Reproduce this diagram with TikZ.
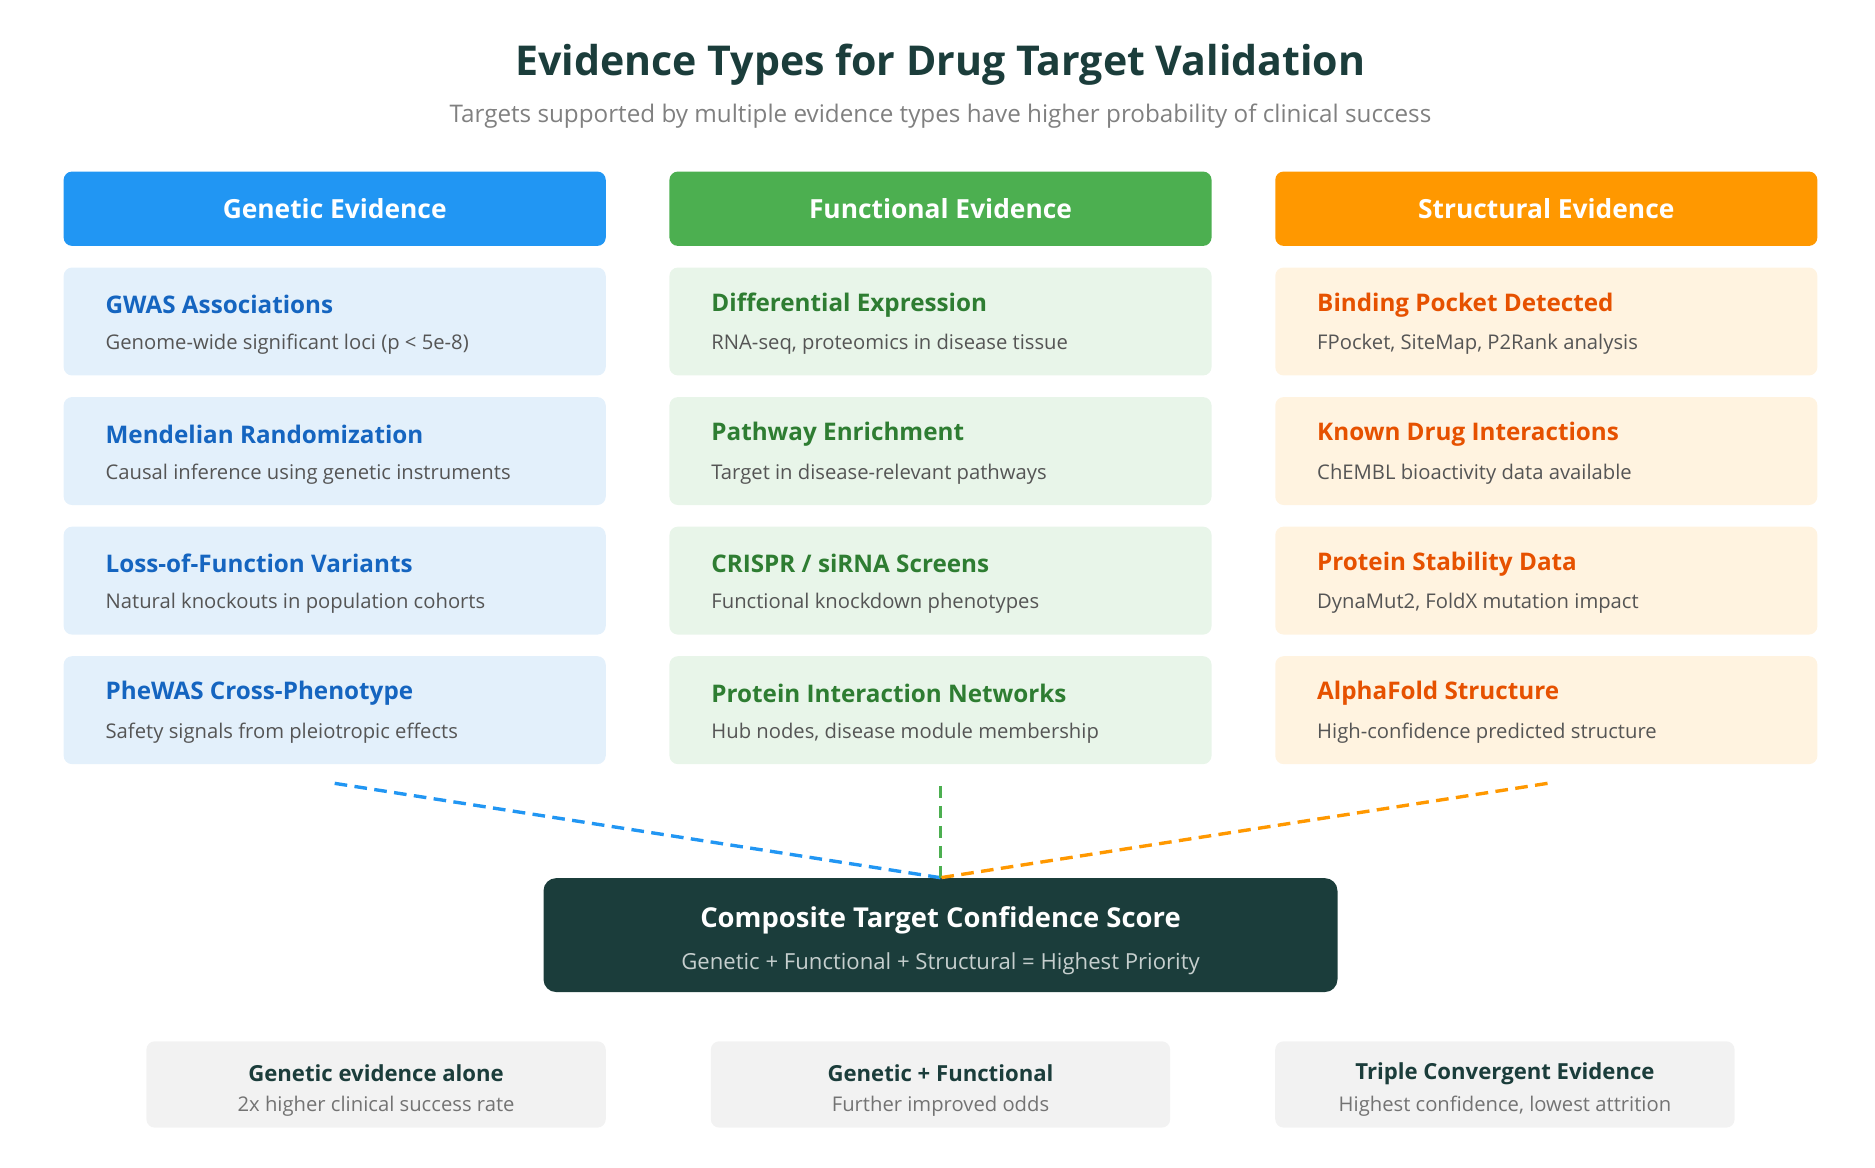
\documentclass[tikz,border=0pt]{standalone}
\usepackage{fontspec}
\setmainfont{Open Sans}
\usetikzlibrary{positioning}
\definecolor{ink}{HTML}{1B3D3B}
\definecolor{gblue}{HTML}{2196F3}
\definecolor{ggreen}{HTML}{4CAF50}
\definecolor{gorange}{HTML}{FF9800}
\definecolor{lblue}{HTML}{E3F0FB}
\definecolor{lgreen}{HTML}{E8F5E9}
\definecolor{lorange}{HTML}{FFF3E0}
\definecolor{tblue}{HTML}{1565C0}
\definecolor{tgreen}{HTML}{2E7D32}
\definecolor{torange}{HTML}{E65100}
\definecolor{subgray}{HTML}{555555}
\tikzset{
  header/.style={rounded corners=4pt, minimum width=9.04cm, minimum height=1.24cm,
    text=white, font=\bfseries\fontsize{12.5}{14}\selectfont, inner sep=0pt},
  item/.style={rounded corners=4pt, minimum width=9.04cm, minimum height=1.8cm, inner sep=0pt},
  itemtitle/.style={anchor=west, font=\bfseries\fontsize{11.5}{13}\selectfont, inner sep=0pt},
  itemsub/.style={anchor=west, text=subgray, font=\fontsize{9.6}{11}\selectfont, inner sep=0pt},
  link/.style={dashed, dash pattern=on 6pt off 3.5pt, line width=1.6pt},
  note/.style={rounded corners=4pt, fill=black!5, minimum width=7.66cm, minimum height=1.44cm, inner sep=0pt}
}
\begin{document}
\begin{tikzpicture}[x=0.02cm,y=-0.02cm]
  \useasboundingbox (0,0) rectangle (1563,973);
  % title
  \node[text=ink, font=\bfseries\fontsize{19.5}{22}\selectfont] (title) at (784,54) {Evidence Types for Drug Target Validation};
  \node[text=black!50, font=\fontsize{11.5}{13}\selectfont] (subtitle) at (784,97) {Targets supported by multiple evidence types have higher probability of clinical success};
  % column headers
  \node[header, fill=gblue] (hgen) at (279,174) {Genetic Evidence};
  \node[header, fill=ggreen] (hfun) at (784,174) {Functional Evidence};
  \node[header, fill=gorange] (hstr) at (1289,174) {Structural Evidence};
  % evidence items
  \foreach \name/\x/\y/\fillc/\textc/\ttl/\sub in {
    gwas/279/268/lblue/tblue/{GWAS Associations}/{Genome-wide significant loci (p < 5e-8)},
    mr/279/376/lblue/tblue/{Mendelian Randomization}/{Causal inference using genetic instruments},
    lof/279/484/lblue/tblue/{Loss-of-Function Variants}/{Natural knockouts in population cohorts},
    phewas/279/592/lblue/tblue/{PheWAS Cross-Phenotype}/{Safety signals from pleiotropic effects},
    dexp/784/268/lgreen/tgreen/{Differential Expression}/{RNA-seq, proteomics in disease tissue},
    path/784/376/lgreen/tgreen/{Pathway Enrichment}/{Target in disease-relevant pathways},
    crispr/784/484/lgreen/tgreen/{CRISPR / siRNA Screens}/{Functional knockdown phenotypes},
    ppi/784/592/lgreen/tgreen/{Protein Interaction Networks}/{Hub nodes, disease module membership},
    pocket/1289/268/lorange/torange/{Binding Pocket Detected}/{FPocket, SiteMap, P2Rank analysis},
    drug/1289/376/lorange/torange/{Known Drug Interactions}/{ChEMBL bioactivity data available},
    stab/1289/484/lorange/torange/{Protein Stability Data}/{DynaMut2, FoldX mutation impact},
    afold/1289/592/lorange/torange/{AlphaFold Structure}/{High-confidence predicted structure}}
  {
    \node[item, fill=\fillc] (\name) at (\x,\y) {};
    \node[itemtitle, text=\textc] (\name-t) at ([xshift=0.7cm,yshift=0.28cm]\name.west) {\ttl};
    \node[itemsub] (\name-s) at ([xshift=0.7cm,yshift=-0.38cm]\name.west) {\sub};
  }
  % composite score
  \node[rounded corners=6pt, fill=ink, minimum width=13.24cm, minimum height=1.9cm, inner sep=0pt] (score) at (784,779.5) {};
  \node[text=white, font=\bfseries\fontsize{13}{15}\selectfont] (score-t) at (784,767) {Composite Target Confidence Score};
  \node[text=white!75!ink, font=\fontsize{10.5}{12}\selectfont] (score-s) at (784,803) {Genetic + Functional + Structural = Highest Priority};
  % converging links
  \coordinate (cgen) at (279,653);
  \coordinate (cfun) at (784,655);
  \coordinate (cstr) at (1290,653);
  \draw[link, gblue] (cgen) -- (score.north);
  \draw[link, ggreen] (cfun) -- (score.north);
  \draw[link, gorange] (cstr) -- (score.north);
  % bottom notes
  \foreach \name/\x/\ttl/\sub in {
    alone/313.5/{Genetic evidence alone}/{2x higher clinical success rate},
    genfun/784/{Genetic + Functional}/{Further improved odds},
    triple/1254.5/{Triple Convergent Evidence}/{Highest confidence, lowest attrition}}
  {
    \node[note] (\name) at (\x,904) {};
    \node[text=ink, font=\bfseries\fontsize{10.5}{12}\selectfont] (\name-t) at (\x,895) {\ttl};
    \node[text=black!55, font=\fontsize{9.6}{11}\selectfont] (\name-s) at (\x,922) {\sub};
  }
\end{tikzpicture}
\end{document}
